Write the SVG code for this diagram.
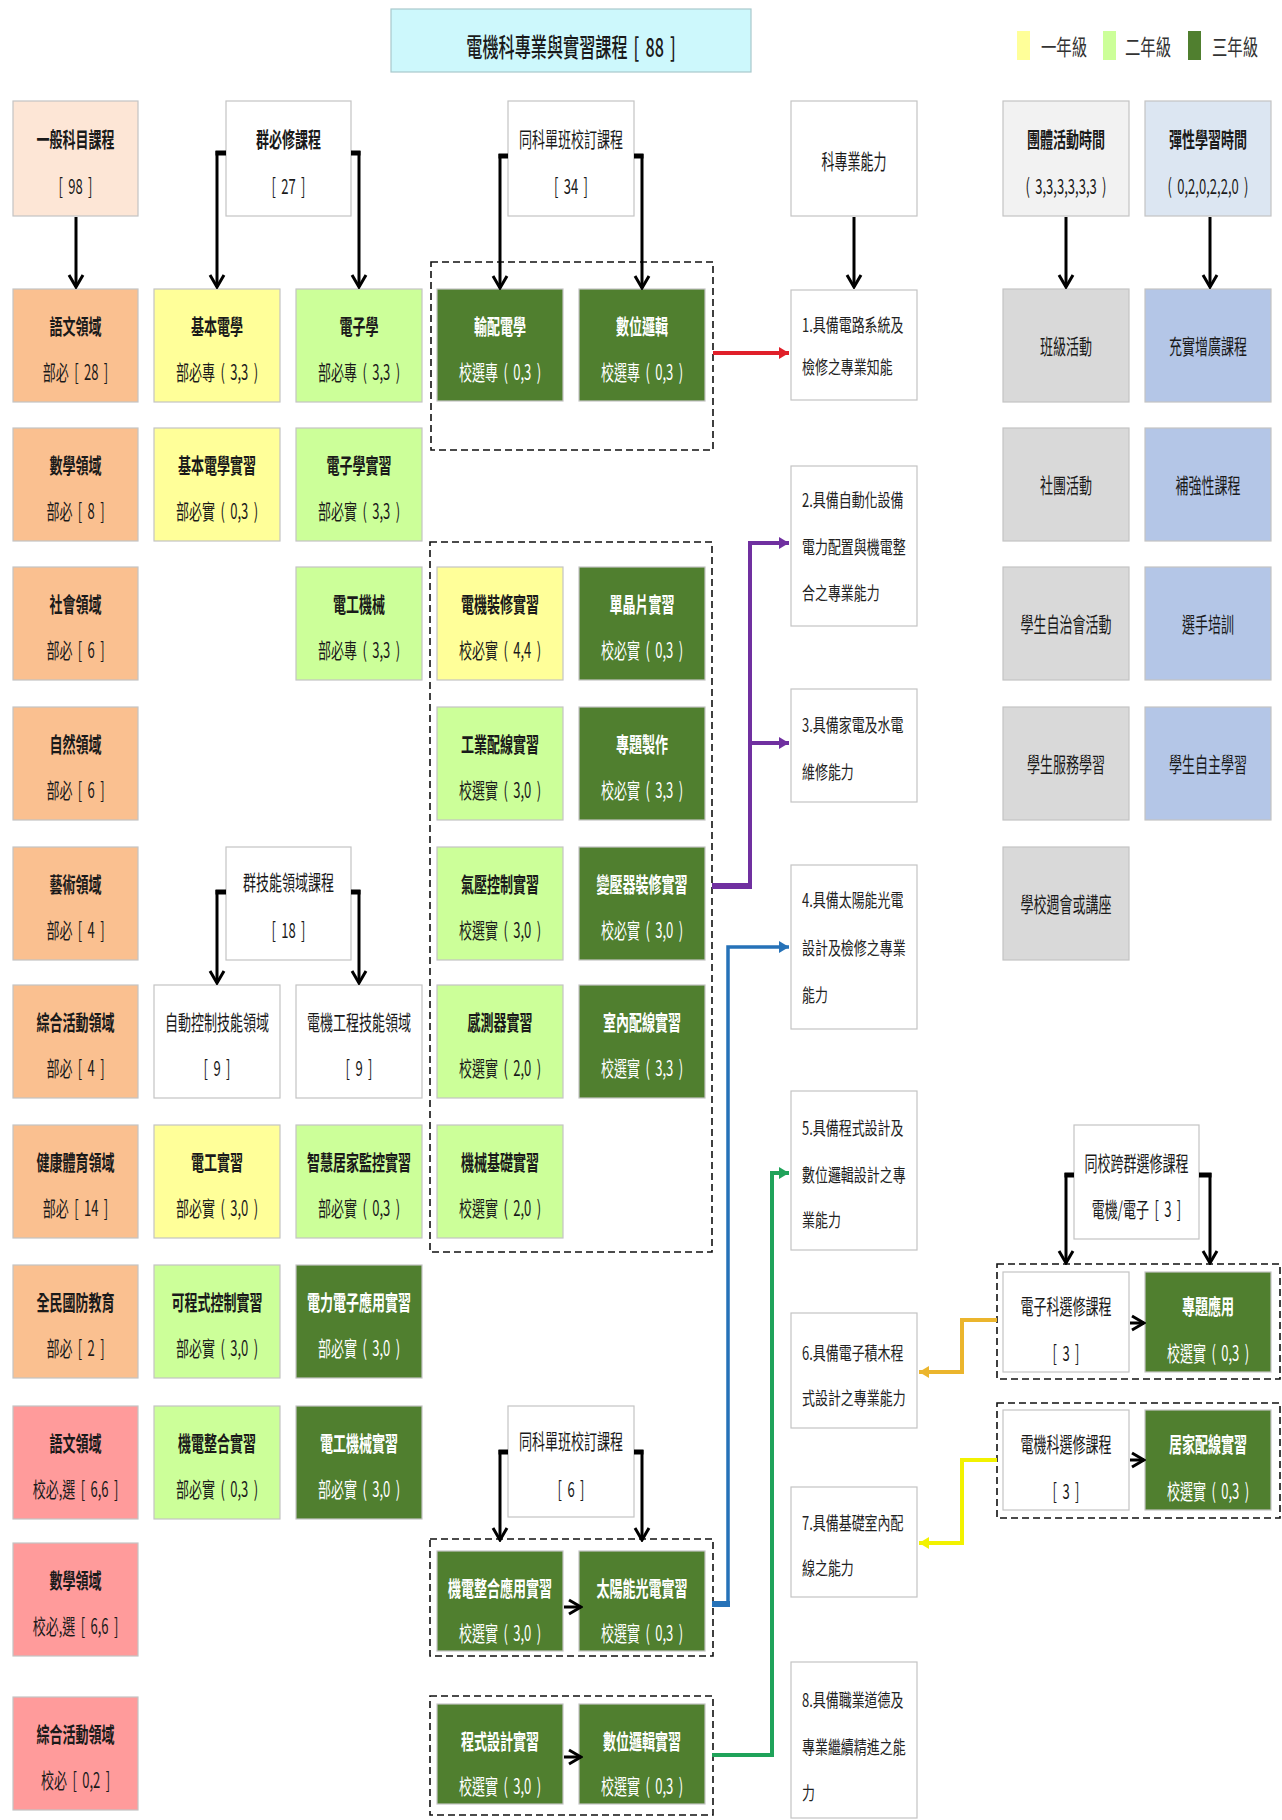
<svg xmlns="http://www.w3.org/2000/svg" width="1282" height="1820" viewBox="0 0 1282 1820">
<defs>
<style>
text{font-family:"Noto Sans CJK TC","Noto Sans CJK SC",sans-serif;text-anchor:middle;dominant-baseline:central;font-size:21px;fill:#1a1a1a}
.b{font-weight:700}
.n{font-weight:400;word-spacing:4px}
.dg text{fill:#fff}
.bx{stroke:#c4c4c4;stroke-width:1.2}
.peach{fill:#fde6d6}.org{fill:#fac090}.pink{fill:#ff9b9b}.yel{fill:#ffff99}.lg{fill:#ccff99}.dgf{fill:#507f2f}.wh{fill:#fff}.gry{fill:#d9d9d9}.blu{fill:#b4c6e7}.hg{fill:#f2f2f2}.hb{fill:#dce6f2}
.ab text{text-anchor:start;font-size:18px;fill:#222;word-spacing:0}
.dash{fill:none;stroke:#111;stroke-width:1.6;stroke-dasharray:7 4}
.k{fill:none;stroke:#000;stroke-width:3}
.ks{fill:none;stroke:#000;stroke-width:5}
.lgd text{font-size:22px;fill:#333}
</style>
<marker id="ah" viewBox="-15 -9 17 18" refX="0" refY="0" markerWidth="17" markerHeight="18" markerUnits="userSpaceOnUse" orient="auto"><path d="M-12,-7 L0,0 L-12,7" fill="none" stroke="#000" stroke-width="3"/></marker>
<marker id="ar" viewBox="-10 -7 11 14" refX="0" refY="0" markerWidth="11" markerHeight="14" markerUnits="userSpaceOnUse" orient="auto"><path d="M-10,-6 L0,0 L-10,6 Z" fill="#e0202a"/></marker>
<marker id="ap" viewBox="-10 -7 11 14" refX="0" refY="0" markerWidth="11" markerHeight="14" markerUnits="userSpaceOnUse" orient="auto"><path d="M-10,-6 L0,0 L-10,6 Z" fill="#7030a0"/></marker>
<marker id="ab" viewBox="-10 -7 11 14" refX="0" refY="0" markerWidth="11" markerHeight="14" markerUnits="userSpaceOnUse" orient="auto"><path d="M-10,-6 L0,0 L-10,6 Z" fill="#2672b8"/></marker>
<marker id="ag" viewBox="-10 -7 11 14" refX="0" refY="0" markerWidth="11" markerHeight="14" markerUnits="userSpaceOnUse" orient="auto"><path d="M-10,-6 L0,0 L-10,6 Z" fill="#20a35a"/></marker>
<marker id="ao" viewBox="-10 -7 11 14" refX="0" refY="0" markerWidth="11" markerHeight="14" markerUnits="userSpaceOnUse" orient="auto"><path d="M-10,-6 L0,0 L-10,6 Z" fill="#ebb52d"/></marker>
<marker id="ay" viewBox="-10 -7 11 14" refX="0" refY="0" markerWidth="11" markerHeight="14" markerUnits="userSpaceOnUse" orient="auto"><path d="M-10,-6 L0,0 L-10,6 Z" fill="#f2f200"/></marker>
</defs>
<rect width="1282" height="1820" fill="#fff"/>

<!-- title -->
<g id="title"><rect x="391" y="9" width="360" height="63" fill="#cdf8fc" stroke="#a9c9cc" stroke-width="1.2"/>
<g transform="translate(571,0) scale(0.62,1)"><text class="n" y="46" style="font-size:26px;font-weight:500">電機科專業與實習課程 [ 88 ]</text></g></g>

<!-- legend -->
<g id="legend" class="lgd">
<rect x="1017" y="31" width="13" height="29" fill="#ffff99"/>
<g transform="translate(1064,0) scale(0.7,1)"><text y="45">一年級</text></g>
<rect x="1103" y="31" width="13" height="29" fill="#ccff99"/>
<g transform="translate(1148,0) scale(0.7,1)"><text y="45">二年級</text></g>
<rect x="1188" y="31" width="13" height="29" fill="#507f2f"/>
<g transform="translate(1235,0) scale(0.7,1)"><text y="45">三年級</text></g>
</g>

<!-- dashed groups -->
<g id="groups">
<rect class="dash" x="431" y="262" width="282" height="188"/>
<rect class="dash" x="430" y="542" width="282" height="710"/>
<rect class="dash" x="430" y="1539" width="283" height="117"/>
<rect class="dash" x="430" y="1696" width="283" height="119"/>
<rect class="dash" x="997" y="1264" width="283" height="115"/>
<rect class="dash" x="997" y="1403" width="283" height="115"/>
</g>

<!-- headers -->
<g id="h_general"><rect class="bx peach" x="13" y="101" width="125" height="115"/><g transform="translate(75.5,0) scale(0.62,1)"><text class="b" y="138">一般科目課程</text><text class="n" y="185">[ 98 ]</text></g></g>
<g id="h_group"><rect class="bx wh" x="226" y="101" width="125" height="115"/><g transform="translate(288.5,0) scale(0.62,1)"><text class="b" y="138">群必修課程</text><text class="n" y="185">[ 27 ]</text></g></g>
<g id="h_school34"><rect class="bx wh" x="508" y="101" width="126" height="115"/><g transform="translate(571,0) scale(0.62,1)"><text class="n" y="138">同科單班校訂課程</text><text class="n" y="185">[ 34 ]</text></g></g>
<g id="h_ability"><rect class="bx wh" x="791" y="101" width="126" height="115"/><g transform="translate(854,0) scale(0.62,1)"><text class="n" y="160">科專業能力</text></g></g>
<g id="h_activity"><rect class="bx hg" x="1003" y="101" width="126" height="115"/><g transform="translate(1066,0) scale(0.62,1)"><text class="b" y="138">團體活動時間</text><text class="n" y="185">( 3,3,3,3,3,3 )</text></g></g>
<g id="h_flex"><rect class="bx hb" x="1145" y="101" width="126" height="115"/><g transform="translate(1208,0) scale(0.62,1)"><text class="b" y="138">彈性學習時間</text><text class="n" y="185">( 0,2,0,2,2,0 )</text></g></g>

<!-- column 0 -->
<g id="c0r0"><rect class="bx org" x="13" y="289" width="125" height="113"/><g transform="translate(75.5,0) scale(0.62,1)"><text class="b" y="325">語文領域</text><text class="n" y="371">部必 [ 28 ]</text></g></g>
<g id="c0r1"><rect class="bx org" x="13" y="428" width="125" height="113"/><g transform="translate(75.5,0) scale(0.62,1)"><text class="b" y="464">數學領域</text><text class="n" y="510">部必 [ 8 ]</text></g></g>
<g id="c0r2"><rect class="bx org" x="13" y="567" width="125" height="113"/><g transform="translate(75.5,0) scale(0.62,1)"><text class="b" y="603">社會領域</text><text class="n" y="649">部必 [ 6 ]</text></g></g>
<g id="c0r3"><rect class="bx org" x="13" y="707" width="125" height="113"/><g transform="translate(75.5,0) scale(0.62,1)"><text class="b" y="743">自然領域</text><text class="n" y="789">部必 [ 6 ]</text></g></g>
<g id="c0r4"><rect class="bx org" x="13" y="847" width="125" height="113"/><g transform="translate(75.5,0) scale(0.62,1)"><text class="b" y="883">藝術領域</text><text class="n" y="929">部必 [ 4 ]</text></g></g>
<g id="c0r5"><rect class="bx org" x="13" y="985" width="125" height="113"/><g transform="translate(75.5,0) scale(0.62,1)"><text class="b" y="1021">綜合活動領域</text><text class="n" y="1067">部必 [ 4 ]</text></g></g>
<g id="c0r6"><rect class="bx org" x="13" y="1125" width="125" height="113"/><g transform="translate(75.5,0) scale(0.62,1)"><text class="b" y="1161">健康體育領域</text><text class="n" y="1207">部必 [ 14 ]</text></g></g>
<g id="c0r7"><rect class="bx org" x="13" y="1265" width="125" height="113"/><g transform="translate(75.5,0) scale(0.62,1)"><text class="b" y="1301">全民國防教育</text><text class="n" y="1347">部必 [ 2 ]</text></g></g>
<g id="c0r8"><rect class="bx pink" x="13" y="1406" width="125" height="113"/><g transform="translate(75.5,0) scale(0.62,1)"><text class="b" y="1442">語文領域</text><text class="n" y="1488">校必,選 [ 6,6 ]</text></g></g>
<g id="c0r9"><rect class="bx pink" x="13" y="1543" width="125" height="113"/><g transform="translate(75.5,0) scale(0.62,1)"><text class="b" y="1579">數學領域</text><text class="n" y="1625">校必,選 [ 6,6 ]</text></g></g>
<g id="c0r10"><rect class="bx pink" x="13" y="1697" width="125" height="113"/><g transform="translate(75.5,0) scale(0.62,1)"><text class="b" y="1733">綜合活動領域</text><text class="n" y="1779">校必 [ 0,2 ]</text></g></g>

<!-- column 1 -->
<g id="c1r0"><rect class="bx yel" x="154" y="289" width="126" height="113"/><g transform="translate(217,0) scale(0.62,1)"><text class="b" y="325">基本電學</text><text class="n" y="371">部必專 ( 3,3 )</text></g></g>
<g id="c1r1"><rect class="bx yel" x="154" y="428" width="126" height="113"/><g transform="translate(217,0) scale(0.62,1)"><text class="b" y="464">基本電學實習</text><text class="n" y="510">部必實 ( 0,3 )</text></g></g>
<g id="h_skill"><rect class="bx wh" x="226" y="847" width="125" height="113"/><g transform="translate(288.5,0) scale(0.62,1)"><text class="n" y="881">群技能領域課程</text><text class="n" y="929">[ 18 ]</text></g></g>
<g id="c1r5"><rect class="bx wh" x="154" y="985" width="126" height="113"/><g transform="translate(217,0) scale(0.62,1)"><text class="n" y="1021">自動控制技能領域</text><text class="n" y="1067">[ 9 ]</text></g></g>
<g id="c1r6"><rect class="bx yel" x="154" y="1125" width="126" height="113"/><g transform="translate(217,0) scale(0.62,1)"><text class="b" y="1161">電工實習</text><text class="n" y="1207">部必實 ( 3,0 )</text></g></g>
<g id="c1r7"><rect class="bx lg" x="154" y="1265" width="126" height="113"/><g transform="translate(217,0) scale(0.62,1)"><text class="b" y="1301">可程式控制實習</text><text class="n" y="1347">部必實 ( 3,0 )</text></g></g>
<g id="c1r8"><rect class="bx lg" x="154" y="1406" width="126" height="113"/><g transform="translate(217,0) scale(0.62,1)"><text class="b" y="1442">機電整合實習</text><text class="n" y="1488">部必實 ( 0,3 )</text></g></g>

<!-- column 2 -->
<g id="c2r0"><rect class="bx lg" x="296" y="289" width="126" height="113"/><g transform="translate(359,0) scale(0.62,1)"><text class="b" y="325">電子學</text><text class="n" y="371">部必專 ( 3,3 )</text></g></g>
<g id="c2r1"><rect class="bx lg" x="296" y="428" width="126" height="113"/><g transform="translate(359,0) scale(0.62,1)"><text class="b" y="464">電子學實習</text><text class="n" y="510">部必實 ( 3,3 )</text></g></g>
<g id="c2r2"><rect class="bx lg" x="296" y="567" width="126" height="113"/><g transform="translate(359,0) scale(0.62,1)"><text class="b" y="603">電工機械</text><text class="n" y="649">部必專 ( 3,3 )</text></g></g>
<g id="c2r5"><rect class="bx wh" x="296" y="985" width="126" height="113"/><g transform="translate(359,0) scale(0.62,1)"><text class="n" y="1021">電機工程技能領域</text><text class="n" y="1067">[ 9 ]</text></g></g>
<g id="c2r6"><rect class="bx lg" x="296" y="1125" width="126" height="113"/><g transform="translate(359,0) scale(0.62,1)"><text class="b" y="1161">智慧居家監控實習</text><text class="n" y="1207">部必實 ( 0,3 )</text></g></g>
<g id="c2r7" class="dg"><rect class="bx dgf" x="296" y="1265" width="126" height="113"/><g transform="translate(359,0) scale(0.62,1)"><text class="b" y="1301">電力電子應用實習</text><text class="n" y="1347">部必實 ( 3,0 )</text></g></g>
<g id="c2r8" class="dg"><rect class="bx dgf" x="296" y="1406" width="126" height="113"/><g transform="translate(359,0) scale(0.62,1)"><text class="b" y="1442">電工機械實習</text><text class="n" y="1488">部必實 ( 3,0 )</text></g></g>

<!-- column 3 -->
<g id="c3r0" class="dg"><rect class="bx dgf" x="437" y="289" width="126" height="112"/><g transform="translate(500,0) scale(0.62,1)"><text class="b" y="325">輸配電學</text><text class="n" y="371">校選專 ( 0,3 )</text></g></g>
<g id="c3r2"><rect class="bx yel" x="437" y="567" width="126" height="113"/><g transform="translate(500,0) scale(0.62,1)"><text class="b" y="603">電機裝修實習</text><text class="n" y="649">校必實 ( 4,4 )</text></g></g>
<g id="c3r3"><rect class="bx lg" x="437" y="707" width="126" height="113"/><g transform="translate(500,0) scale(0.62,1)"><text class="b" y="743">工業配線實習</text><text class="n" y="789">校選實 ( 3,0 )</text></g></g>
<g id="c3r4"><rect class="bx lg" x="437" y="847" width="126" height="113"/><g transform="translate(500,0) scale(0.62,1)"><text class="b" y="883">氣壓控制實習</text><text class="n" y="929">校選實 ( 3,0 )</text></g></g>
<g id="c3r5"><rect class="bx lg" x="437" y="985" width="126" height="113"/><g transform="translate(500,0) scale(0.62,1)"><text class="b" y="1021">感測器實習</text><text class="n" y="1067">校選實 ( 2,0 )</text></g></g>
<g id="c3r6"><rect class="bx lg" x="437" y="1125" width="126" height="113"/><g transform="translate(500,0) scale(0.62,1)"><text class="b" y="1161">機械基礎實習</text><text class="n" y="1207">校選實 ( 2,0 )</text></g></g>

<!-- column 4 -->
<g id="c4r0" class="dg"><rect class="bx dgf" x="579" y="289" width="126" height="112"/><g transform="translate(642,0) scale(0.62,1)"><text class="b" y="325">數位邏輯</text><text class="n" y="371">校選專 ( 0,3 )</text></g></g>
<g id="c4r2" class="dg"><rect class="bx dgf" x="579" y="567" width="126" height="113"/><g transform="translate(642,0) scale(0.62,1)"><text class="b" y="603">單晶片實習</text><text class="n" y="649">校必實 ( 0,3 )</text></g></g>
<g id="c4r3" class="dg"><rect class="bx dgf" x="579" y="707" width="126" height="113"/><g transform="translate(642,0) scale(0.62,1)"><text class="b" y="743">專題製作</text><text class="n" y="789">校必實 ( 3,3 )</text></g></g>
<g id="c4r4" class="dg"><rect class="bx dgf" x="579" y="847" width="126" height="113"/><g transform="translate(642,0) scale(0.62,1)"><text class="b" y="883">變壓器裝修實習</text><text class="n" y="929">校必實 ( 3,0 )</text></g></g>
<g id="c4r5" class="dg"><rect class="bx dgf" x="579" y="985" width="126" height="113"/><g transform="translate(642,0) scale(0.62,1)"><text class="b" y="1021">室內配線實習</text><text class="n" y="1067">校選實 ( 3,3 )</text></g></g>

<!-- bottom school-set group -->
<g id="h_school6"><rect class="bx wh" x="508" y="1406" width="126" height="111"/><g transform="translate(571,0) scale(0.62,1)"><text class="n" y="1440">同科單班校訂課程</text><text class="n" y="1488">[ 6 ]</text></g></g>
<g id="b1" class="dg"><rect class="bx dgf" x="437" y="1551" width="126" height="100"/><g transform="translate(500,0) scale(0.62,1)"><text class="b" y="1587">機電整合應用實習</text><text class="n" y="1632">校選實 ( 3,0 )</text></g></g>
<g id="b2" class="dg"><rect class="bx dgf" x="579" y="1551" width="126" height="100"/><g transform="translate(642,0) scale(0.62,1)"><text class="b" y="1587">太陽能光電實習</text><text class="n" y="1632">校選實 ( 0,3 )</text></g></g>
<g id="b3" class="dg"><rect class="bx dgf" x="437" y="1704" width="126" height="100"/><g transform="translate(500,0) scale(0.62,1)"><text class="b" y="1740">程式設計實習</text><text class="n" y="1785">校選實 ( 3,0 )</text></g></g>
<g id="b4" class="dg"><rect class="bx dgf" x="579" y="1704" width="126" height="100"/><g transform="translate(642,0) scale(0.62,1)"><text class="b" y="1740">數位邏輯實習</text><text class="n" y="1785">校選實 ( 0,3 )</text></g></g>

<!-- abilities -->
<g id="ab1" class="ab"><rect class="bx wh" x="791" y="290" width="126" height="110"/><g transform="translate(802,0) scale(0.72,1)"><text y="325">1.具備電路系統及</text><text y="367">檢修之專業知能</text></g></g>
<g id="ab2" class="ab"><rect class="bx wh" x="791" y="466" width="126" height="160"/><g transform="translate(802,0) scale(0.72,1)"><text y="500">2.具備自動化設備</text><text y="547">電力配置與機電整</text><text y="593">合之專業能力</text></g></g>
<g id="ab3" class="ab"><rect class="bx wh" x="791" y="689" width="126" height="113"/><g transform="translate(802,0) scale(0.72,1)"><text y="725">3.具備家電及水電</text><text y="772">維修能力</text></g></g>
<g id="ab4" class="ab"><rect class="bx wh" x="791" y="865" width="126" height="164"/><g transform="translate(802,0) scale(0.72,1)"><text y="900">4.具備太陽能光電</text><text y="948">設計及檢修之專業</text><text y="995">能力</text></g></g>
<g id="ab5" class="ab"><rect class="bx wh" x="791" y="1091" width="126" height="159"/><g transform="translate(802,0) scale(0.72,1)"><text y="1128">5.具備程式設計及</text><text y="1175">數位邏輯設計之專</text><text y="1220">業能力</text></g></g>
<g id="ab6" class="ab"><rect class="bx wh" x="791" y="1313" width="126" height="115"/><g transform="translate(802,0) scale(0.72,1)"><text y="1353">6.具備電子積木程</text><text y="1398">式設計之專業能力</text></g></g>
<g id="ab7" class="ab"><rect class="bx wh" x="791" y="1487" width="126" height="110"/><g transform="translate(802,0) scale(0.72,1)"><text y="1523">7.具備基礎室內配</text><text y="1568">線之能力</text></g></g>
<g id="ab8" class="ab"><rect class="bx wh" x="791" y="1662" width="126" height="156"/><g transform="translate(802,0) scale(0.72,1)"><text y="1700">8.具備職業道德及</text><text y="1747">專業繼續精進之能</text><text y="1793">力</text></g></g>

<!-- activity / flexible -->
<g id="g1"><rect class="bx gry" x="1003" y="289" width="126" height="113"/><g transform="translate(1066,0) scale(0.62,1)"><text class="n" y="345">班級活動</text></g></g>
<g id="g2"><rect class="bx gry" x="1003" y="428" width="126" height="113"/><g transform="translate(1066,0) scale(0.62,1)"><text class="n" y="484">社團活動</text></g></g>
<g id="g3"><rect class="bx gry" x="1003" y="567" width="126" height="113"/><g transform="translate(1066,0) scale(0.62,1)"><text class="n" y="623">學生自治會活動</text></g></g>
<g id="g4"><rect class="bx gry" x="1003" y="707" width="126" height="113"/><g transform="translate(1066,0) scale(0.62,1)"><text class="n" y="763">學生服務學習</text></g></g>
<g id="g5"><rect class="bx gry" x="1003" y="847" width="126" height="113"/><g transform="translate(1066,0) scale(0.62,1)"><text class="n" y="903">學校週會或講座</text></g></g>
<g id="f1"><rect class="bx blu" x="1145" y="289" width="126" height="113"/><g transform="translate(1208,0) scale(0.62,1)"><text class="n" y="345">充實增廣課程</text></g></g>
<g id="f2"><rect class="bx blu" x="1145" y="428" width="126" height="113"/><g transform="translate(1208,0) scale(0.62,1)"><text class="n" y="484">補強性課程</text></g></g>
<g id="f3"><rect class="bx blu" x="1145" y="567" width="126" height="113"/><g transform="translate(1208,0) scale(0.62,1)"><text class="n" y="623">選手培訓</text></g></g>
<g id="f4"><rect class="bx blu" x="1145" y="707" width="126" height="113"/><g transform="translate(1208,0) scale(0.62,1)"><text class="n" y="763">學生自主學習</text></g></g>

<!-- cross-group electives -->
<g id="h_cross"><rect class="bx wh" x="1074" y="1125" width="125" height="114"/><g transform="translate(1136.5,0) scale(0.62,1)"><text class="n" y="1162">同校跨群選修課程</text><text class="n" y="1208">電機/電子 [ 3 ]</text></g></g>
<g id="x1"><rect class="bx wh" x="1003" y="1272" width="126" height="100"/><g transform="translate(1066,0) scale(0.62,1)"><text class="n" y="1305">電子科選修課程</text><text class="n" y="1352">[ 3 ]</text></g></g>
<g id="x2" class="dg"><rect class="bx dgf" x="1145" y="1272" width="126" height="100"/><g transform="translate(1208,0) scale(0.62,1)"><text class="b" y="1305">專題應用</text><text class="n" y="1352">校選實 ( 0,3 )</text></g></g>
<g id="x3"><rect class="bx wh" x="1003" y="1410" width="126" height="100"/><g transform="translate(1066,0) scale(0.62,1)"><text class="n" y="1443">電機科選修課程</text><text class="n" y="1490">[ 3 ]</text></g></g>
<g id="x4" class="dg"><rect class="bx dgf" x="1145" y="1410" width="126" height="100"/><g transform="translate(1208,0) scale(0.62,1)"><text class="b" y="1443">居家配線實習</text><text class="n" y="1490">校選實 ( 0,3 )</text></g></g>

<!-- connectors -->
<g id="connectors">
<path class="k" d="M76,217 V287" marker-end="url(#ah)"/>
<path class="ks" d="M226,153 H215.5"/><path class="k" d="M217,151 V287" marker-end="url(#ah)"/>
<path class="ks" d="M351,153 H360.5"/><path class="k" d="M359,151 V287" marker-end="url(#ah)"/>
<path class="ks" d="M508,156 H498.5"/><path class="k" d="M500,154 V288" marker-end="url(#ah)"/>
<path class="ks" d="M634,156 H643.5"/><path class="k" d="M642,154 V288" marker-end="url(#ah)"/>
<path class="k" d="M854,217 V287" marker-end="url(#ah)"/>
<path class="k" d="M1066,217 V287" marker-end="url(#ah)"/>
<path class="k" d="M1210,217 V287" marker-end="url(#ah)"/>
<path class="ks" d="M226,892 H215.5"/><path class="k" d="M217,890 V983" marker-end="url(#ah)"/>
<path class="ks" d="M351,892 H360.5"/><path class="k" d="M359,890 V983" marker-end="url(#ah)"/>
<path class="ks" d="M508,1452 H498.5"/><path class="k" d="M500,1450 V1540" marker-end="url(#ah)"/>
<path class="ks" d="M634,1452 H643.5"/><path class="k" d="M642,1450 V1540" marker-end="url(#ah)"/>
<path class="ks" d="M1074,1175 H1064.5"/><path class="k" d="M1066,1173 V1263" marker-end="url(#ah)"/>
<path class="ks" d="M1199,1175 H1211.5"/><path class="k" d="M1210,1173 V1263" marker-end="url(#ah)"/>
<path class="k" d="M1130,1323 H1144" marker-end="url(#ah)"/>
<path class="k" d="M1130,1460 H1144" marker-end="url(#ah)"/>
<path class="k" d="M564,1607 H581" marker-end="url(#ah)"/>
<path class="k" d="M564,1757 H581" marker-end="url(#ah)"/>
<path d="M713,353 H789" fill="none" stroke="#e0202a" stroke-width="4" marker-end="url(#ar)"/>
<path d="M712,886 H752" fill="none" stroke="#7030a0" stroke-width="6"/>
<path d="M750,888 V543 H789" fill="none" stroke="#7030a0" stroke-width="4" marker-end="url(#ap)"/>
<path d="M750,743 H789" fill="none" stroke="#7030a0" stroke-width="4" marker-end="url(#ap)"/>
<path d="M712,1604 H730" fill="none" stroke="#2672b8" stroke-width="6"/>
<path d="M728,1606 V947 H789" fill="none" stroke="#2672b8" stroke-width="3.5" marker-end="url(#ab)"/>
<path d="M712,1755 H772 V1173 H789" fill="none" stroke="#20a35a" stroke-width="4" marker-end="url(#ag)"/>
<path d="M997,1320 H962 V1372 H919" fill="none" stroke="#ebb52d" stroke-width="4" marker-end="url(#ao)"/>
<path d="M997,1460 H962 V1543 H919" fill="none" stroke="#f2f200" stroke-width="4" marker-end="url(#ay)"/>
</g>
</svg>
